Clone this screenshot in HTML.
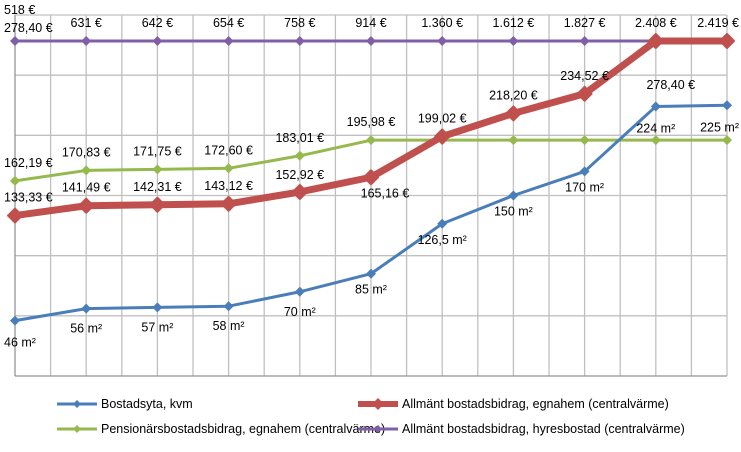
<!DOCTYPE html>
<html><head><meta charset="utf-8"><style>
body{margin:0;background:#fff;}
svg text{font-family:"Liberation Sans",sans-serif;font-size:12.5px;fill:#000;}
</style></head><body>
<svg id="c" width="741" height="447"></svg>
<script>
const categories=["1","2","3","4","5","6","7","8","9","10","11"];
const bostadsyta=[46,56,57,58,70,85,126.5,150,170,224,225];
const bostadsytaLabels=["46 m²","56 m²","57 m²","58 m²","70 m²","85 m²","126,5 m²","150 m²","170 m²","224 m²","225 m²"];
const allmEgnahem=[133.33,141.49,142.31,143.12,152.92,165.16,199.02,218.20,234.52,278.40,278.40];
const pension=[162.19,170.83,171.75,172.60,183.01,195.98,195.98,195.98,195.98,195.98,195.98];
const hyres=[278.40,278.40,278.40,278.40,278.40,278.40,278.40,278.40,278.40,278.40,278.40];
const topLabels=["518 €","631 €","642 €","654 €","758 €","914 €","1.360 €","1.612 €","1.827 €","2.408 €","2.419 €"];
const yTicks=[0,50,100,150,200,250,300];

const NS="http://www.w3.org/2000/svg";
const svg=document.getElementById('c');
const X0=15,X1=727,Y0=376,Y1=15,YMAX=300;
const x=i=>X0+(X1-X0)*i/(categories.length-1);
const y=v=>Y0-(Y0-Y1)*v/YMAX;
const fmt=v=>v.toFixed(2).replace('.',',')+' €';
function mk(t,a,p){const e=document.createElementNS(NS,t);for(const k in a)e.setAttribute(k,a[k]);(p||svg).appendChild(e);return e;}
function txt(s,tx,ty,anchor,fill){const e=mk('text',{x:tx,y:ty,'text-anchor':anchor||'middle'});if(fill)e.setAttribute('fill',fill);e.textContent=s;
 const b=e.getBBox();
 if(b.x<4)e.setAttribute('x',tx+(4-b.x));
 else if(b.x+b.width>739)e.setAttribute('x',tx-(b.x+b.width-739));
 return e;}

yTicks.forEach(t=>{const l=mk('line',{x1:X0,x2:X1,y1:y(t),y2:y(t),stroke:'#c0c0c0','stroke-width':1.3});

});
for(let k=0;k<=2*(categories.length-1);k++){const gx=X0+(X1-X0)*k/(2*(categories.length-1));
const l=mk('line',{x1:gx,x2:gx,y1:Y1,y2:Y0,stroke:'#c0c0c0','stroke-width':1.3});

}
mk('line',{x1:X0,x2:X0,y1:Y1,y2:Y0,stroke:'#888'});
mk('line',{x1:X0,x2:X1,y1:Y0,y2:Y0,stroke:'#888'});

function series(vals,color,w,ms,name){
  const g=mk('g',{});
  
  
  mk('polyline',{points:vals.map((v,i)=>x(i)+','+y(v)).join(' '),fill:'none',stroke:color,'stroke-width':w,'stroke-linejoin':'round'},g);
  vals.forEach((v,i)=>{const cx=x(i),cy=y(v);
    const p=mk('polygon',{points:`${cx},${cy-ms} ${cx+ms},${cy} ${cx},${cy+ms} ${cx-ms},${cy}`,fill:color,stroke:color,'stroke-width':w>4?2:0,'stroke-linejoin':'round'},g);
    
    });
}
series(hyres,'#7f5fa5',3,5,'hyresbostad-series');
series(pension,'#95b94c',3,5,'pension-series');
series(bostadsyta,'#4a7ebb',3,5,'bostadsyta-series');
series(allmEgnahem,'#c0504d',7,7,'egnahem-series');

bostadsyta.forEach((v,i)=>{let dy=i<5?20:(i<9?16:22);if(i==0)dy=22;
 txt(bostadsytaLabels[i],x(i),y(v)+dy+4,'middle');});
allmEgnahem.forEach((v,i)=>{if(i==10)return;
 let tx=x(i),ty;
 if(i==5){tx+=14;ty=y(v)+20;} else if(i==9){tx+=15;ty=y(v)+48;} else ty=y(v)-14;
 if(i==4)ty=y(v)-13;
 txt(fmt(v),tx,ty,'middle');});
pension.slice(0,6).forEach((v,i)=>{txt(fmt(v),x(i),y(v)-14,'middle');});
txt(fmt(hyres[0]),x(0),y(hyres[0])-9,'middle');
topLabels.forEach((s,i)=>{txt(s,x(i),i==0?14:27,'middle','#ff0000');});

function leg(lx,ly,color,w,ms,label,name){const g=mk('g',{});
 
 
 mk('line',{x1:lx,x2:lx+40,y1:ly,y2:ly,stroke:color,'stroke-width':w},g);
 mk('polygon',{points:`${lx+20},${ly-ms} ${lx+20+ms},${ly} ${lx+20},${ly+ms} ${lx+20-ms},${ly}`,fill:color},g);
 const t=mk('text',{x:lx+44,y:ly+4},g);t.textContent=label;}
leg(57,404,'#4a7ebb',3,4,'Bostadsyta, kvm','legend-bostadsyta');
leg(358,404,'#c0504d',6,6,'Allmänt bostadsbidrag, egnahem (centralvärme)','legend-egnahem');
leg(57,429,'#95b94c',3,4,'Pensionärsbostadsbidrag, egnahem (centralvärme)','legend-pension');
leg(358,429,'#7f5fa5',3,4,'Allmänt bostadsbidrag, hyresbostad (centralvärme)','legend-hyresbostad');
</script>
</body></html>
